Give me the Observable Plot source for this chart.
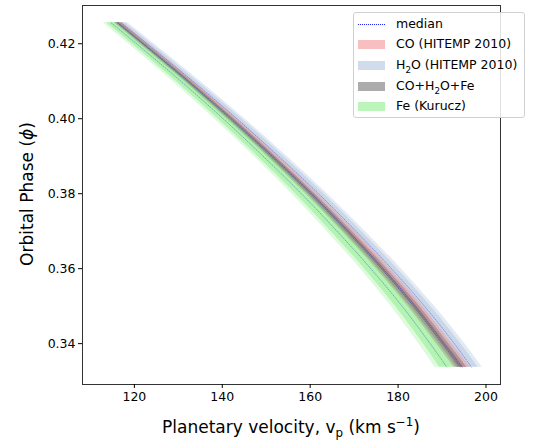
<!DOCTYPE html>
<html><head><meta charset="utf-8">
<script src="https://cdn.jsdelivr.net/npm/d3@7"></script>
<script src="https://cdn.jsdelivr.net/npm/@observablehq/plot@0.6"></script>
<style>
body{margin:0;background:#fff;font-family:"DejaVu Sans",sans-serif;}
#wrap{position:relative;width:555px;height:444px;overflow:hidden;}
#wrap svg{position:absolute;left:0;top:0;}
.lab{position:absolute;font-size:17px;color:#000;white-space:nowrap;}
#xlab{left:291px;top:427px;transform:translate(-50%,-50%);}
#ylab{left:27px;top:194px;transform:translate(-50%,-50%) rotate(-90deg);}
#legend{position:absolute;left:353px;top:12px;width:170px;height:104px;border:1px solid #d0d0d0;border-radius:3px;background:rgba(255,255,255,0.85);font-size:12.5px;}
.li{position:absolute;left:4px;height:16px;line-height:16px;white-space:nowrap;}
.sw{display:inline-block;vertical-align:middle;width:27px;height:9px;margin-right:11px;}
.ln{display:inline-block;vertical-align:middle;width:27px;height:0;border-top:1px dotted #2020ff;margin-right:11px;}
sub,sup{font-size:70%;line-height:0;}
</style></head><body><div id="wrap">
<div id="xlab" class="lab">Planetary velocity, v<sub>p</sub> (km s<sup>−1</sup>)</div>
<div id="ylab" class="lab">Orbital Phase (<i>ϕ</i>)</div>
<div id="legend">
 <div class="li" style="top:3px"><span class="ln"></span><span>median</span></div>
 <div class="li" style="top:23px"><span class="sw" style="background:rgba(240,128,128,0.5)"></span><span>CO (HITEMP 2010)</span></div>
 <div class="li" style="top:44px"><span class="sw" style="background:rgba(176,196,222,0.6)"></span><span>H<sub>2</sub>O (HITEMP 2010)</span></div>
 <div class="li" style="top:65px"><span class="sw" style="background:rgba(128,128,128,0.65)"></span><span>CO+H<sub>2</sub>O+Fe</span></div>
 <div class="li" style="top:85px"><span class="sw" style="background:rgba(144,238,144,0.6)"></span><span>Fe (Kurucz)</span></div>
</div>
</div>
<script>
// Orbital phase samples
const phase = [0.4256, 0.42, 0.41, 0.40, 0.39, 0.38, 0.37, 0.36, 0.35, 0.34, 0.3337];
// Combined (CO+H2O+Fe) median planetary velocity (km/s)
const combCenter = [116.1, 121.9, 132.1, 141.8, 151.1, 160.0, 168.3, 176.2, 183.5, 190.1, 194.2];
const combOuter  = [0.7, 0.75, 0.8, 0.9, 0.95, 1.0, 1.1, 1.2, 1.3, 1.4, 1.45];
const combInner  = [0.4, 0.45, 0.5, 0.55, 0.6, 0.6, 0.65, 0.7, 0.75, 0.8, 0.85];
// CO
const coCenter = [116.3, 122.1, 132.3, 142.1, 151.4, 160.3, 168.7, 176.6, 183.9, 190.5, 194.6];
const coOuter  = [1.0, 1.05, 1.1, 1.2, 1.3, 1.4, 1.5, 1.6, 1.7, 1.8, 1.85];
const coInner  = [0.6, 0.6, 0.65, 0.7, 0.75, 0.8, 0.9, 0.95, 1.0, 1.05, 1.1];
// H2O
const h2oCenter = [117.0, 122.9, 133.3, 143.3, 152.8, 161.9, 170.4, 178.5, 186.0, 192.8, 196.7];
const h2oOuter  = [1.5, 1.6, 1.7, 1.8, 1.9, 2.0, 2.1, 2.2, 2.3, 2.4, 2.45];
const h2oInner  = [0.9, 0.95, 1.0, 1.1, 1.15, 1.2, 1.25, 1.3, 1.4, 1.45, 1.5];
// Fe
const feCenter = [114.7, 120.5, 130.6, 140.2, 149.3, 158.0, 166.1, 173.8, 180.9, 187.3, 191.1];
const feOuter  = [1.8, 1.85, 1.9, 2.0, 2.1, 2.2, 2.3, 2.4, 2.5, 2.6, 2.7];
const feInner  = [1.0, 1.05, 1.1, 1.2, 1.25, 1.3, 1.4, 1.45, 1.5, 1.55, 1.6];

const xTicks = [120, 140, 160, 180, 200];
const yTicks = [0.34, 0.36, 0.38, 0.40, 0.42];

const bands = [
  {name: "H2O", c: h2oCenter, o: h2oOuter, i: h2oInner, color: "#b0c4de", op: [0.35, 0.5]},
  {name: "CO", c: coCenter, o: coOuter, i: coInner, color: "#f08080", op: [0.35, 0.45]},
  {name: "CO+H2O+Fe", c: combCenter, o: combOuter, i: combInner, color: "#808080", op: [0.45, 0.6]},
  {name: "Fe", c: feCenter, o: feOuter, i: feInner, color: "#90ee90", op: [0.3, 0.55]}
];

const marks = [];
for (const b of bands) {
  const rows = phase.map((p, k) => ({phase: p, lo2: b.c[k] - b.o[k], hi2: b.c[k] + b.o[k], lo1: b.c[k] - b.i[k], hi1: b.c[k] + b.i[k]}));
  marks.push(Plot.areaX(rows, {y: "phase", x1: "lo2", x2: "hi2", fill: b.color, fillOpacity: b.op[0], curve: "catmull-rom"}));
  marks.push(Plot.areaX(rows, {y: "phase", x1: "lo1", x2: "hi1", fill: b.color, fillOpacity: b.op[1], curve: "catmull-rom"}));
}
for (const b of bands) {
  const rows = phase.map((p, k) => ({phase: p, c: b.c[k]}));
  marks.push(Plot.line(rows, {x: "c", y: "phase", stroke: "#0000c0", strokeOpacity: 0.55, strokeWidth: 0.6, strokeDasharray: "1,1.5", curve: "catmull-rom"}));
}
marks.push(Plot.frame({stroke: "#333", strokeWidth: 1}));
marks.push(Plot.axisX({ticks: xTicks, tickSize: 4, tickPadding: 4, label: null, fontSize: 12.5}));
marks.push(Plot.axisY({ticks: yTicks, tickSize: 4, tickPadding: 3, tickFormat: d3.format(".2f"), label: null, fontSize: 12.5}));

const chart = Plot.plot({
  width: 555, height: 444,
  marginLeft: 82, marginRight: 55, marginTop: 5, marginBottom: 60,
  style: {fontFamily: "DejaVu Sans", fontSize: "12.5px", color: "#000", background: "transparent"},
  x: {domain: [108.2, 203.3]},
  y: {domain: [0.3291, 0.4302]},
  marks
});
document.getElementById("wrap").prepend(chart);
</script></body></html>
